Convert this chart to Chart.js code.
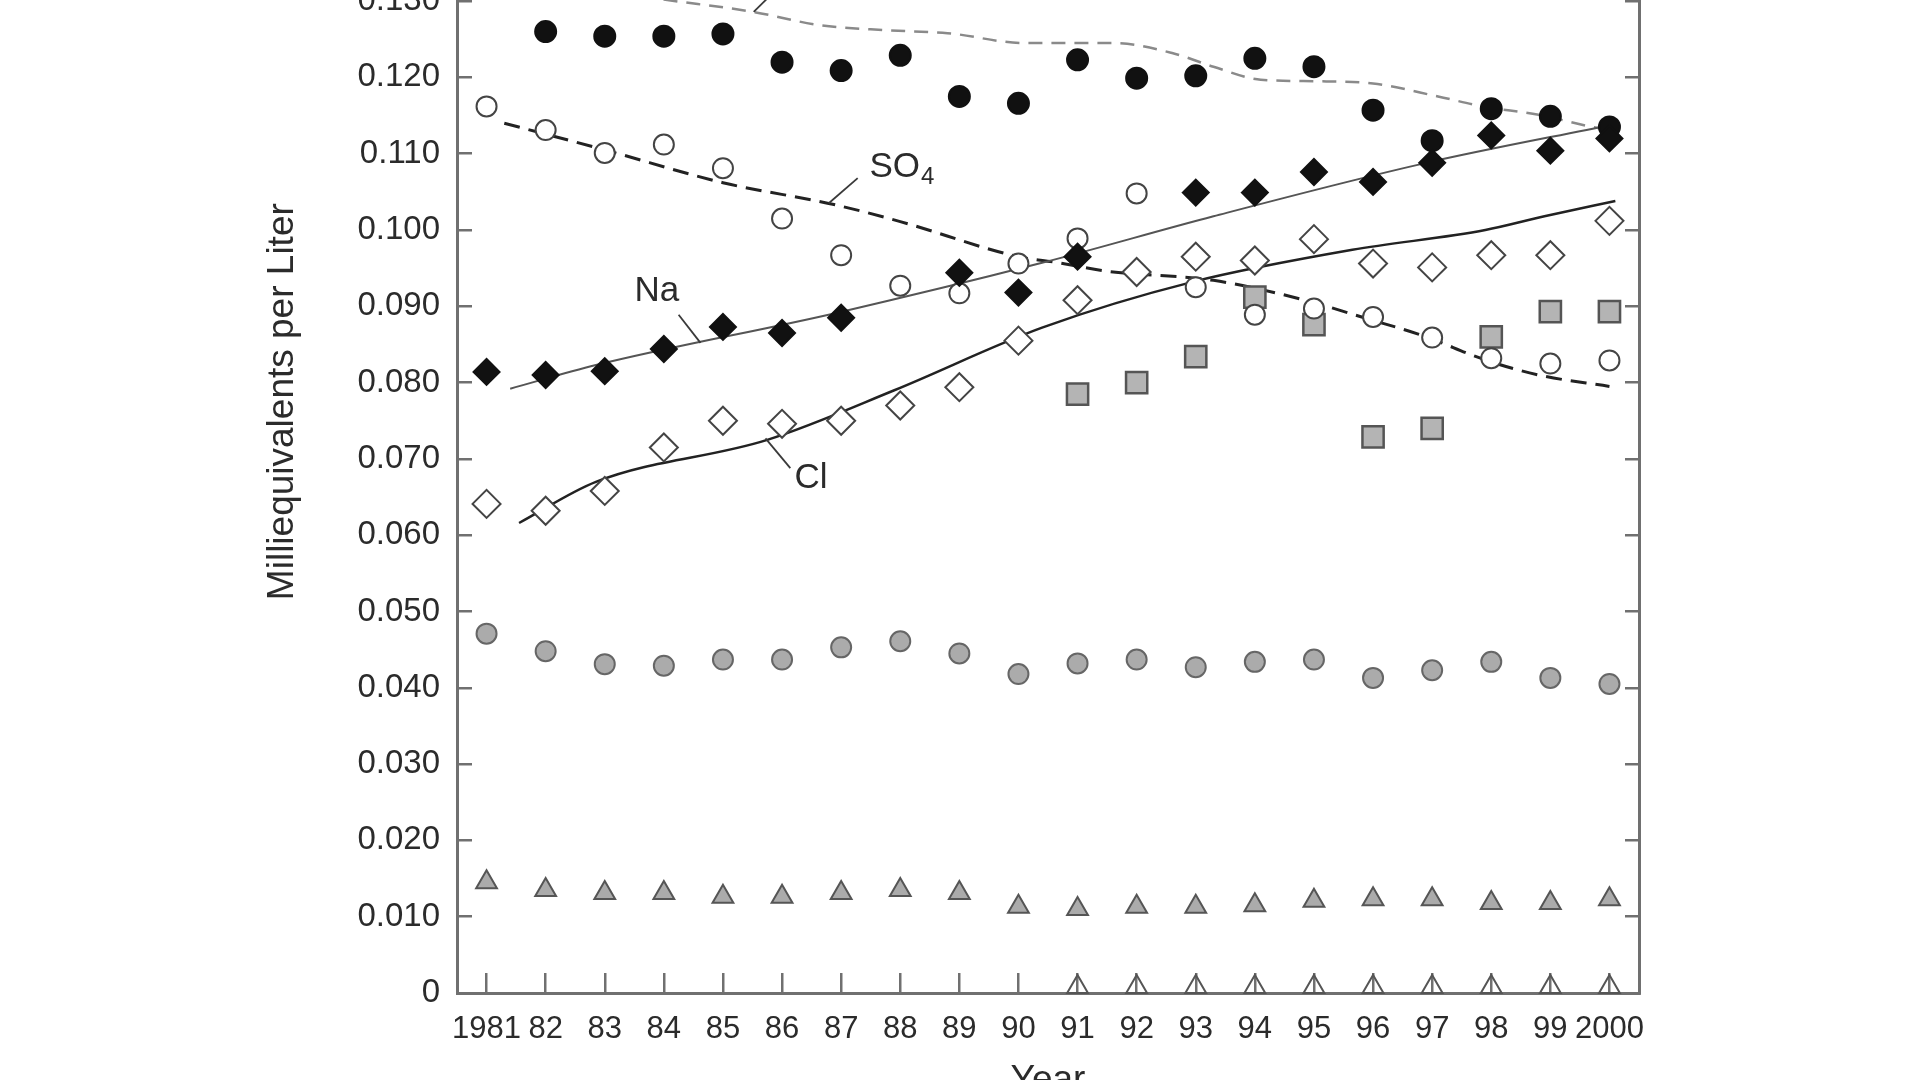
<!DOCTYPE html>
<html>
<head>
<meta charset="utf-8">
<title>Milliequivalents per Liter, 1981-2000</title>
<script src="https://cdn.jsdelivr.net/npm/chart.js@4.4.1/dist/chart.umd.min.js"></script>
<style>
  html, body { margin: 0; padding: 0; background: #fff; overflow: hidden; width: 1920px; height: 1080px; }
  #chartBox { position: absolute; left: 0; top: -260px; width: 1920px; height: 1430px; }
</style>
</head>
<body>
<div id="chartBox"><canvas id="ionChart"></canvas></div>
<script>
// Years and their tick labels
const years = [1981, 1982, 1983, 1984, 1985, 1986, 1987, 1988, 1989, 1990,
               1991, 1992, 1993, 1994, 1995, 1996, 1997, 1998, 1999, 2000];
const yearLabels = ['1981', '82', '83', '84', '85', '86', '87', '88', '89', '90',
                    '91', '92', '93', '94', '95', '96', '97', '98', '99', '2000'];

// Annual values (meq/L), one per year, null where no mark is shown
const filledCircles = [null, 0.1260, 0.1254, 0.1254, 0.1257, 0.1220, 0.1209, 0.1229, 0.1175, 0.1166,
                       0.1223, 0.1199, 0.1202, 0.1225, 0.1214, 0.1157, 0.1117, 0.1159, 0.1149, 0.1135];
const so4Points = [0.1162, 0.1131, 0.1101, 0.1112, 0.1081, 0.1015, 0.0967, 0.0927, 0.0917, 0.0956,
                   0.0989, 0.1048, 0.0925, 0.0889, 0.0897, 0.0886, 0.0859, 0.0832, 0.0825, 0.0829];
const naPoints = [0.0814, 0.0810, 0.0815, 0.0844, 0.0873, 0.0865, 0.0885, null, 0.0944, 0.0918,
                  0.0965, null, 0.1049, 0.1049, 0.1076, 0.1063, 0.1088, 0.1124, 0.1104, 0.1120];
const clPoints = [0.0641, 0.0632, 0.0658, 0.0715, 0.0750, 0.0746, 0.0750, 0.0770, 0.0794, 0.0855,
                  0.0908, 0.0945, 0.0965, 0.0960, 0.0988, 0.0956, 0.0951, 0.0967, 0.0967, 0.1012];
const graySquares = [null, null, null, null, null, null, null, null, null, null,
                     0.0785, 0.0800, 0.0834, 0.0912, 0.0876, 0.0729, 0.0740, 0.0860, 0.0893, 0.0893];
const grayCircles = [0.0471, 0.0448, 0.0431, 0.0429, 0.0437, 0.0437, 0.0453, 0.0461, 0.0445, 0.0418,
                     0.0432, 0.0437, 0.0427, 0.0434, 0.0437, 0.0413, 0.0423, 0.0434, 0.0413, 0.0405];
const grayTriangles = [0.0145, 0.0135, 0.0131, 0.0131, 0.0126, 0.0126, 0.0131, 0.0135, 0.0131, 0.0113,
                       0.0110, 0.0113, 0.0113, 0.0115, 0.0121, 0.0123, 0.0123, 0.0118, 0.0118, 0.0123];
const openTriangles = [null, null, null, null, null, null, null, null, null, null,
                       0.0008, 0.0008, 0.0008, 0.0008, 0.0008, 0.0008, 0.0008, 0.0008, 0.0008, 0.0008];

// Smoothed trend curves
const topTrendX = [1981.3, 1984.0, 1985.5, 1986.6, 1987.7, 1988.8, 1990.1, 1991.6, 1992.6, 1993.3,
                   1994.1, 1995.0, 1996.0, 1997.1, 1997.85, 1998.8, 1999.65, 2000.0];
const topTrendY = [0.1333, 0.1302, 0.1286, 0.1269, 0.1262, 0.1258, 0.1245, 0.1245, 0.1232, 0.1214,
                   0.1197, 0.1195, 0.1192, 0.1175, 0.1162, 0.1151, 0.1136, 0.1131];
const so4TrendX = [1981.3, 1983.0, 1985.0, 1986.9, 1988.0, 1990.0, 1990.6, 1991.5, 1993.3, 1994.85,
                   1995.85, 1996.9, 1997.85, 1998.8, 2000.0];
const so4TrendY = [0.1140, 0.1105, 0.1062, 0.1033, 0.1011, 0.0965, 0.0958, 0.0946, 0.0934, 0.0908,
                   0.0885, 0.0860, 0.0831, 0.0810, 0.0795];
const naTrendX = [1981.4, 1982.85, 1986.9, 1990.4, 1993.3, 1996.9, 2000.05];
const naTrendY = [0.0792, 0.0823, 0.0891, 0.0957, 0.1018, 0.1088, 0.1138];
const clTrendX = [1981.55, 1982.85, 1985.75, 1987.9, 1990.4, 1992.95, 1995.65, 1997.9, 1998.9, 2000.1];
const clTrendY = [0.0616, 0.0670, 0.0725, 0.0790, 0.0872, 0.0932, 0.0974, 0.1000, 0.1018, 0.1038];

// Curve labels and their leader lines, in data units
const leaderLines = [
    [[1984.25, 0.0889], [1984.62, 0.0852]],
    [[1985.72, 0.0727], [1986.14, 0.0688]],
    [[1986.79, 0.1035], [1987.28, 0.1068]],
    [[1985.52, 0.1286], [1986.10, 0.1330]]
];
const curveLabels = [
    { text: 'Na', x: 1983.88, y: 0.0919, align: 'center' },
    { text: 'Cl', x: 1986.49, y: 0.0675, align: 'center' },
    { text: 'SO', sub: '4', x: 1987.48, y: 0.1082, align: 'left' }
];

const fontFamily = '"Liberation Sans", Arial, Helvetica, sans-serif';
const axisGray = '#707070';
const inkColor = '#2b2b2b';

function toXY(xs, ys) {
    return xs.map((x, i) => ({ x: x, y: ys[i] })).filter(p => p.y !== null);
}

function markerSet(label, values, style) {
    return Object.assign({
        label: label,
        data: toXY(years, values),
        showLine: false,
        clip: false,
        pointBorderWidth: 2
    }, style);
}

function trendSet(label, xs, ys, style) {
    return Object.assign({
        label: label,
        data: toXY(xs, ys),
        showLine: true,
        pointRadius: 0,
        fill: false,
        cubicInterpolationMode: 'monotone'
    }, style);
}

// Leader lines and curve names
const curveLabelPlugin = {
    id: 'curveLabels',
    afterDatasetsDraw(chart) {
        const ctx = chart.ctx;
        const xs = chart.scales.x;
        const ys = chart.scales.y;
        ctx.save();
        ctx.strokeStyle = '#3a3a3a';
        ctx.lineWidth = 1.8;
        leaderLines.forEach(seg => {
            ctx.beginPath();
            ctx.moveTo(xs.getPixelForValue(seg[0][0]), ys.getPixelForValue(seg[0][1]));
            ctx.lineTo(xs.getPixelForValue(seg[1][0]), ys.getPixelForValue(seg[1][1]));
            ctx.stroke();
        });
        ctx.fillStyle = inkColor;
        ctx.textBaseline = 'middle';
        curveLabels.forEach(lab => {
            const px = xs.getPixelForValue(lab.x);
            const py = ys.getPixelForValue(lab.y);
            ctx.font = '35px ' + fontFamily;
            ctx.textAlign = lab.align;
            ctx.fillText(lab.text, px, py);
            if (lab.sub) {
                const w = ctx.measureText(lab.text).width;
                ctx.font = '24px ' + fontFamily;
                ctx.textAlign = 'left';
                ctx.fillText(lab.sub, px + w + 1, py + 10);
            }
        });
        ctx.restore();
    }
};

new Chart(document.getElementById('ionChart'), {
    type: 'scatter',
    data: {
        datasets: [
            markerSet('Na', naPoints, {
                pointStyle: 'rectRot', pointRadius: 13,
                pointBackgroundColor: '#111', pointBorderColor: '#111'
            }),
            markerSet('Top series', filledCircles, {
                pointStyle: 'circle', pointRadius: 10.5,
                pointBackgroundColor: '#111', pointBorderColor: '#111'
            }),
            markerSet('SO4', so4Points, {
                pointStyle: 'circle', pointRadius: 10,
                pointBackgroundColor: '#fff', pointBorderColor: '#444'
            }),
            markerSet('Cl', clPoints, {
                pointStyle: 'rectRot', pointRadius: 14,
                pointBackgroundColor: '#fff', pointBorderColor: '#444'
            }),
            markerSet('Squares', graySquares, {
                pointStyle: 'rect', pointRadius: 15,
                pointBackgroundColor: '#b4b4b4', pointBorderColor: '#555', pointBorderWidth: 2.5
            }),
            markerSet('Gray circles', grayCircles, {
                pointStyle: 'circle', pointRadius: 10,
                pointBackgroundColor: '#ababab', pointBorderColor: '#666'
            }),
            markerSet('Gray triangles', grayTriangles, {
                pointStyle: 'triangle', pointRadius: 12,
                pointBackgroundColor: '#ababab', pointBorderColor: '#555'
            }),
            markerSet('Open triangles', openTriangles, {
                pointStyle: 'triangle', pointRadius: 12,
                pointBackgroundColor: 'rgba(255,255,255,0)', pointBorderColor: '#555'
            }),
            trendSet('Cl trend', clTrendX, clTrendY, { borderColor: '#222', borderWidth: 2.5 }),
            trendSet('Na trend', naTrendX, naTrendY, { borderColor: '#555', borderWidth: 2 }),
            trendSet('SO4 trend', so4TrendX, so4TrendY, { borderColor: '#222', borderWidth: 3, borderDash: [16, 9] }),
            trendSet('Top trend', topTrendX, topTrendY, { borderColor: '#8a8a8a', borderWidth: 2.5, borderDash: [14, 9] })
        ]
    },
    options: {
        responsive: true,
        maintainAspectRatio: false,
        animation: false,
        events: [],
        layout: { padding: { left: 247, right: 281, top: 70.35, bottom: 57 } },
        plugins: {
            legend: { display: false },
            tooltip: { enabled: false }
        },
        scales: {
            x: {
                type: 'linear',
                min: 1980.5,
                max: 2000.5,
                afterBuildTicks: scale => { scale.ticks = years.map(v => ({ value: v })); },
                afterFit: scale => { scale.height = 120; },
                border: { display: true, color: axisGray, width: 3 },
                grid: { display: true, drawOnChartArea: false, drawTicks: true, tickLength: -20, color: axisGray, lineWidth: 2.5 },
                ticks: {
                    padding: 38,
                    autoSkip: false,
                    maxRotation: 0,
                    color: inkColor,
                    font: { family: fontFamily, size: 31 },
                    callback: (value, index) => yearLabels[index]
                },
                title: {
                    display: true,
                    text: 'Year',
                    color: inkColor,
                    font: { family: fontFamily, size: 37 },
                    padding: { top: 0, bottom: 10 }
                }
            },
            y: {
                type: 'linear',
                position: 'left',
                min: 0,
                max: 0.155,
                afterFit: scale => { scale.width = 210; },
                border: { display: true, color: axisGray, width: 3 },
                grid: { display: true, drawOnChartArea: false, drawTicks: true, tickLength: -15, color: axisGray, lineWidth: 2.5 },
                ticks: {
                    stepSize: 0.01,
                    includeBounds: false,
                    padding: 32,
                    color: inkColor,
                    font: { family: fontFamily, size: 33 },
                    callback: value => (value === 0 ? '0' : value.toFixed(3))
                },
                title: {
                    display: true,
                    text: 'Milliequivalents per Liter',
                    color: inkColor,
                    font: { family: fontFamily, size: 37 },
                    padding: { top: 14, bottom: 0 }
                }
            },
            yRight: {
                type: 'linear',
                position: 'right',
                min: 0,
                max: 0.155,
                afterFit: scale => { scale.width = 0; },
                border: { display: true, color: axisGray, width: 3 },
                grid: { display: true, drawOnChartArea: false, drawTicks: true, tickLength: -14, color: axisGray, lineWidth: 2.5 },
                ticks: { display: false, stepSize: 0.01, includeBounds: false }
            }
        }
    },
    plugins: [curveLabelPlugin]
});
</script>
</body>
</html>
